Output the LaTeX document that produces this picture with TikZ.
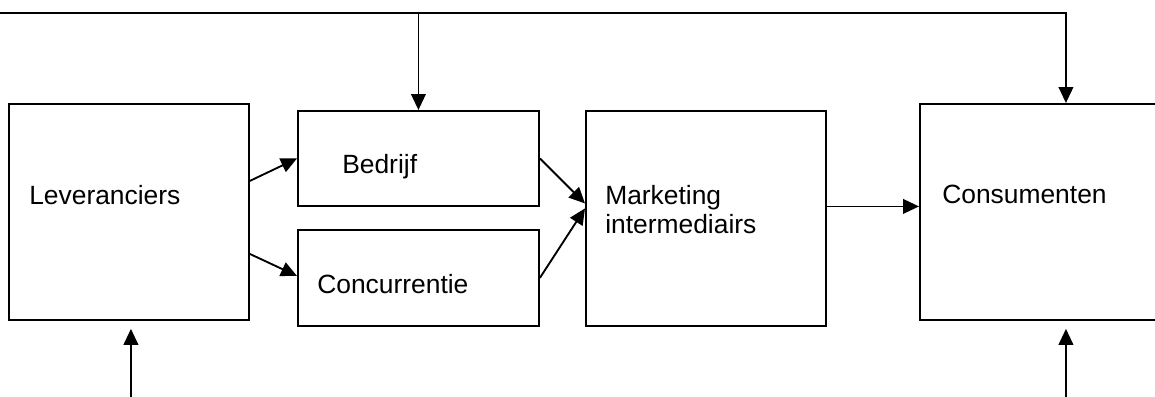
\documentclass[tikz,border=0pt]{standalone}
\usepackage{fontspec}
\setmainfont{Liberation Sans}
\usetikzlibrary{arrows.meta}

\tikzset{
	box/.style={draw,line width=1.4pt,inner sep=0pt,anchor=north west},
	lbl/.style={anchor=base west,inner sep=0pt,align=left,font=\fontsize{19.8pt}{21.5pt}\selectfont},
	flow/.style={->,line width=1.4pt,>={Triangle[length=12pt,width=11pt]}}
}

\begin{document}
\begin{tikzpicture}[x=0.75pt,y=-0.75pt]
	\useasboundingbox (0,0) rectangle (1155,396);
	\clip (0,0) rectangle (1155,396);

	% the five blocks of the chain
	\foreach \nm/\x/\y/\w/\h in
		{lev/8/103/240/216, bed/297/110/241/95, con/297/229/241/96,
		 mkt/585/110/240/215, cons/919/103/292/216}
		\node[box,minimum width=\w*0.75pt,minimum height=\h*0.75pt] (\nm) at (\x,\y) {};

	\node[lbl] (levtxt) at (29,204) {Leveranciers};
	\node[lbl] (bedtxt) at (342,173) {Bedrijf};
	\node[lbl] (contxt) at (317,293) {Concurrentie};
	\node[lbl] (mkttxt) at (605,233) {Marketing\\intermediairs};
	\node[lbl] (constxt) at (942,203) {Consumenten};

	% loose ends of the incoming arrows and the top feedback line
	\coordinate (top) at (0,13);
	\coordinate (levin) at ([shift={(2,77)}]lev.south);
	\coordinate (consin) at ([shift={(0,77)}]cons.south);

	\path[flow]
		([shift={(0,-31)}]lev.east) edge (bed.west)
		([shift={(0,42)}]lev.east) edge ([shift={(0,-2)}]con.west)
		(bed.east) edge ([shift={(0,-15)}]mkt.west)
		(con.east) edge ([shift={(0,-10)}]mkt.west)
		([shift={(0,-12)}]mkt.east) edge ([shift={(0,-12)}]mkt.east -| cons.west)
		(levin) edge ([shift={(2,8)}]lev.south)
		(consin) edge ([shift={(0,8)}]cons.south);

	\draw[flow,<->] (bed.north) |- (top) -| (cons.north);
\end{tikzpicture}
\end{document}
